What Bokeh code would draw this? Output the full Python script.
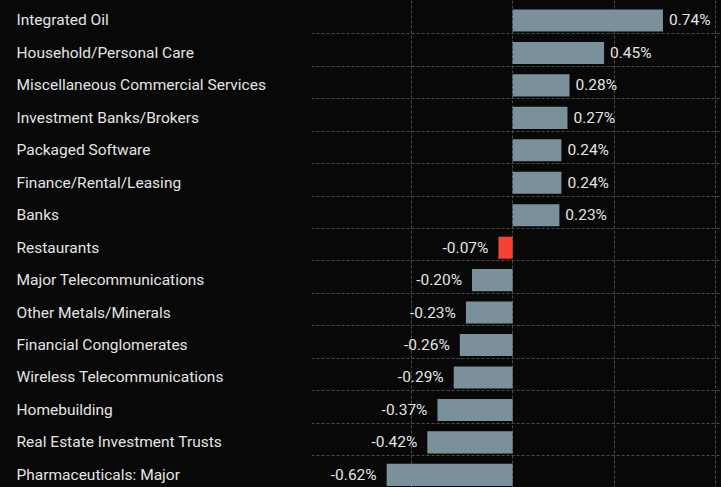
from bokeh.plotting import figure
from bokeh.models import ColumnDataSource, Range1d, FixedTicker
from bokeh.layouts import row
from bokeh.embed import file_html
from bokeh.resources import INLINE
from bokeh.core.properties import value

categories = [
    "Integrated Oil",
    "Household/Personal Care",
    "Miscellaneous Commercial Services",
    "Investment Banks/Brokers",
    "Packaged Software",
    "Finance/Rental/Leasing",
    "Banks",
    "Restaurants",
    "Major Telecommunications",
    "Other Metals/Minerals",
    "Financial Conglomerates",
    "Wireless Telecommunications",
    "Homebuilding",
    "Real Estate Investment Trusts",
    "Pharmaceuticals: Major",
]
changes = [0.74, 0.45, 0.28, 0.27, 0.24, 0.24, 0.23, -0.07, -0.20, -0.23, -0.26, -0.29, -0.37, -0.42, -0.62]
highlight = ["Restaurants"]
x_ticks = [-0.5, 0.0, 0.5, 1.0]

BG = "#080808"
BAR = "#7a909b"
RED = "#f44336"
TXT = "#e4e4e4"
GRID = "#4a4a4a"
FONT = "Roboto"

n = len(categories)
rows_idx = list(range(n))
src = ColumnDataSource(dict(
    y=rows_idx,
    cat=categories,
    val=changes,
    label=[f"{v:.2f}%" for v in changes],
    color=[RED if c in highlight else BAR for c in categories],
    align=["left" if v >= 0 else "right" for v in changes],
    xoff=[6 if v >= 0 else -10 for v in changes],
))

y_range = Range1d(start=n - 0.61, end=-0.616)
H = 487

left = figure(width=311, height=H, x_range=Range1d(0, 311), y_range=y_range,
              output_backend="svg", toolbar_location=None, min_border=0,
              background_fill_color=BG, border_fill_color=BG, outline_line_color=None)
left.axis.visible = False
left.grid.visible = False
left.text(x=16, y="y", text="cat", source=src, text_font=value(FONT), text_font_size="15.5px",
          text_color=TXT, text_baseline="middle", text_align="left")

right = figure(width=410, height=H, x_range=Range1d(-0.99, 1.028), y_range=y_range,
               output_backend="svg", toolbar_location=None, min_border=0,
               background_fill_color=BG, border_fill_color=BG, outline_line_color=None)
right.axis.visible = False
right.xgrid.ticker = FixedTicker(ticks=x_ticks)
right.ygrid.ticker = FixedTicker(ticks=[i + 0.41 for i in range(n - 1)])
for g in (right.xgrid, right.ygrid):
    g.grid_line_color = GRID
    g.grid_line_dash = "3 2"
    g.grid_line_width = 1
right.hbar(y="y", left=0, right="val", height=0.68, color="color", source=src, line_color=None)
right.text(x="val", y="y", text="label", source=src, x_offset="xoff", text_align="align",
           text_baseline="middle", text_font=value(FONT), text_font_size="15.5px", text_color=TXT)

layout = row(left, right, spacing=0)
html = file_html(layout, INLINE)
html = html.replace("<head>", "<head><style>html,body{margin:0;padding:0;background:%s;overflow:hidden}</style>" % BG, 1)
open("out.html", "w").write(html)
